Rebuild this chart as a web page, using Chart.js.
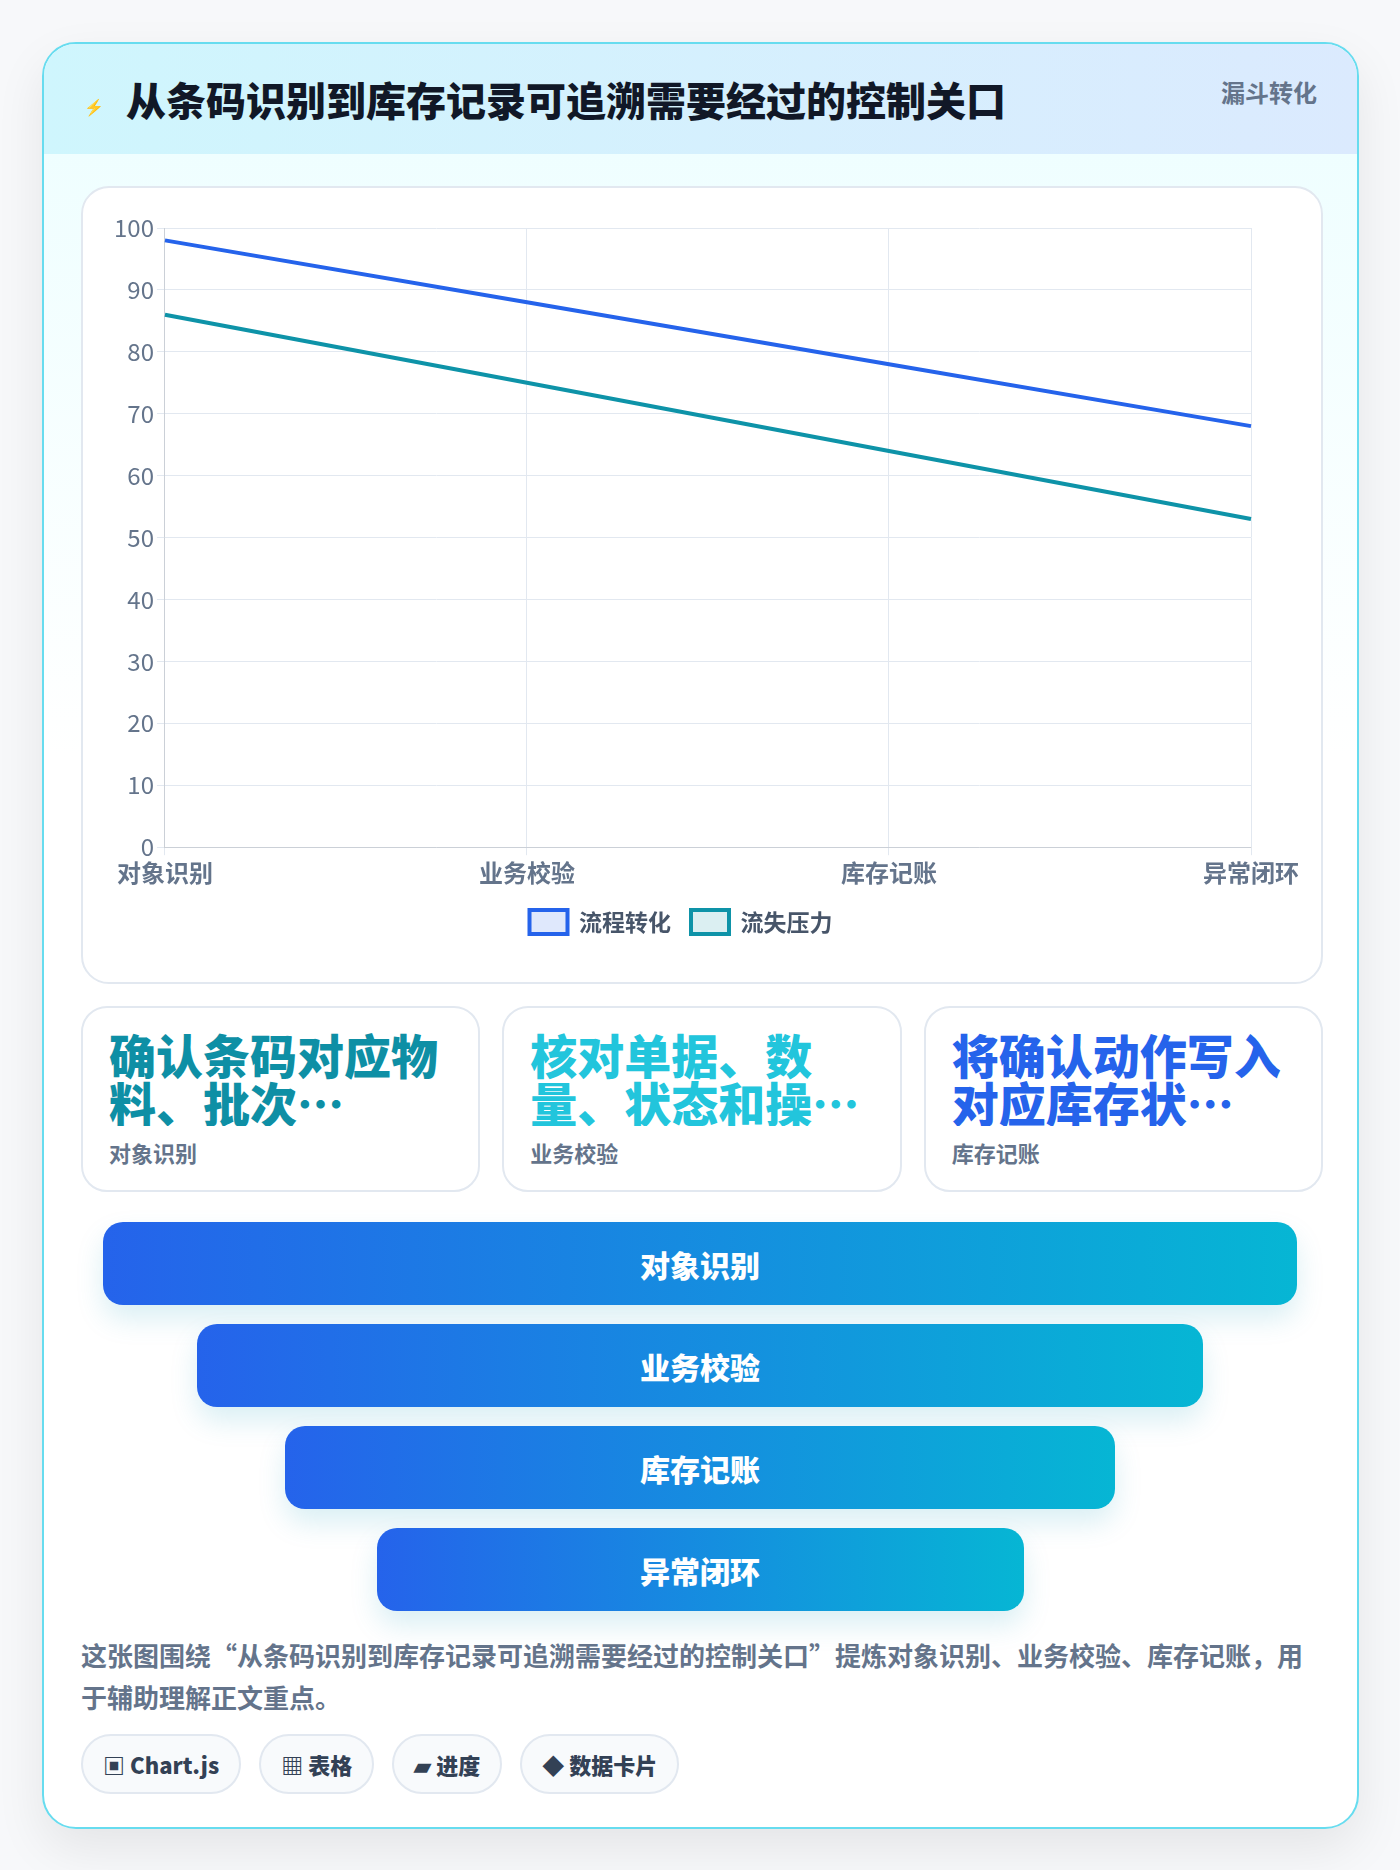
<!DOCTYPE html>
<html><head><meta charset="utf-8">
<script src="https://cdn.jsdelivr.net/npm/chart.js@4"></script>
<style>
body{margin:0;background:#f7f8fa;font-family:"Noto Sans CJK SC","Noto Sans",sans-serif;width:1400px;height:1870px;}
.card{position:absolute;left:42px;top:42px;width:1313px;height:1783px;border:2px solid #67dcef;border-radius:34px;background:linear-gradient(#ecfeff,#ffffff 40%);box-shadow:0 20px 50px rgba(0,0,0,.08);overflow:hidden}
.head{height:110px;background:linear-gradient(90deg,#cff6fd,#dbeafe);display:flex;align-items:center;position:relative}
.head h1{margin:0 0 0 82px;font-size:40px;font-weight:900;color:#111827}
.head .bolt{position:absolute;left:40px;top:50px;color:#2563eb;font-size:16px}
.head .tag{position:absolute;right:40px;top:30px;font-size:24px;font-weight:700;color:#64748b}
.chartbox{position:absolute;left:37px;top:142px;width:1238px;height:794px;background:#fff;border:2px solid #e2e8f0;border-radius:28px}
.stats{position:absolute;left:37px;top:962px;width:1242px;display:flex;gap:22px}
.stat{flex:1;height:186px;background:#fff;border:2px solid #e2e8f0;border-radius:26px;padding:22px 26px;box-sizing:border-box}
.stat .v{font-size:47px;font-weight:900;line-height:48px;height:96px;overflow:hidden}
.stat .l{font-size:22px;font-weight:700;color:#64748b;margin-top:10px}
.bar{position:absolute;height:83px;border-radius:20px;background:linear-gradient(90deg,#2563eb,#06b6d4);color:#fff;font-size:30px;font-weight:800;display:flex;align-items:center;justify-content:center;box-shadow:0 14px 28px rgba(8,145,178,.15)}
.desc{position:absolute;left:37px;top:1590px;width:1245px;font-size:26px;font-weight:700;color:#64748b;line-height:42px}
.tags{position:absolute;left:37px;top:1690px;display:flex;gap:18px}
.tags span{border:2px solid #e2e8f0;background:#f8fafc;border-radius:30px;padding:12px 20px;font-size:22px;font-weight:800;color:#334155}
</style></head><body>
<div class="card">
 <div class="head"><span class="bolt">⚡</span><h1>从条码识别到库存记录可追溯需要经过的控制关口</h1><span class="tag">漏斗转化</span></div>
 <div class="chartbox"><canvas id="c" width="1238" height="794"></canvas></div>
 <div class="stats">
  <div class="stat"><div class="v" style="color:#0e8fa5">确认条码对应物料、批次…</div><div class="l">对象识别</div></div>
  <div class="stat"><div class="v" style="color:#22c5dc">核对单据、数量、状态和操…</div><div class="l">业务校验</div></div>
  <div class="stat"><div class="v" style="color:#2563eb">将确认动作写入对应库存状…</div><div class="l">库存记账</div></div>
 </div>
 <div id="funnel"></div>
 <div class="desc">这张图围绕“从条码识别到库存记录可追溯需要经过的控制关口”提炼对象识别、业务校验、库存记账，用于辅助理解正文重点。</div>
 <div class="tags"><span>▣ Chart.js</span><span>▦ 表格</span><span>▰ 进度</span><span>◆ 数据卡片</span></div>
</div>
<script>
const stages = ['对象识别', '业务校验', '库存记账', '异常闭环'];
const flowValues = [98, 88, 78, 68];
const lossValues = [86, 75, 64, 53];
const funnelWidths = [1194, 1006, 830, 647];

// funnel bars
const funnel = document.getElementById('funnel');
stages.forEach((s, i) => {
    const d = document.createElement('div');
    d.className = 'bar';
    d.textContent = s;
    d.style.width = funnelWidths[i] + 'px';
    d.style.left = (656 - funnelWidths[i] / 2) + 'px';
    d.style.top = (1178 + i * 102) + 'px';
    funnel.appendChild(d);
});

Chart.defaults.font.family = '"Noto Sans CJK SC","Noto Sans",sans-serif';
new Chart(document.getElementById('c'), {
    type: 'line',
    data: {
        labels: stages,
        datasets: [
            { label: '流程转化', data: flowValues, borderColor: '#2563eb', backgroundColor: 'rgba(37,99,235,0.15)', borderWidth: 4, pointRadius: 0, tension: 0 },
            { label: '流失压力', data: lossValues, borderColor: '#0e93a8', backgroundColor: 'rgba(14,147,168,0.15)', borderWidth: 4, pointRadius: 0, tension: 0 }
        ]
    },
    options: {
        responsive: false,
        animation: false,
        layout: { padding: { left: 28, right: 70, top: 40, bottom: 38 } },
        scales: {
            y: { min: 0, max: 100, ticks: { stepSize: 10, color: '#64748b', font: { size: 24 } }, grid: { color: '#e2e8f0' } },
            x: { ticks: { color: '#64748b', font: { size: 24, weight: 'bold' } }, grid: { color: '#e2e8f0' } }
        },
        plugins: {
            legend: { position: 'bottom', labels: { color: '#475569', font: { size: 23, weight: 'bold' }, boxWidth: 38, boxHeight: 24, padding: 20 } },
            tooltip: { enabled: false }
        }
    }
});
</script>
</body></html>
